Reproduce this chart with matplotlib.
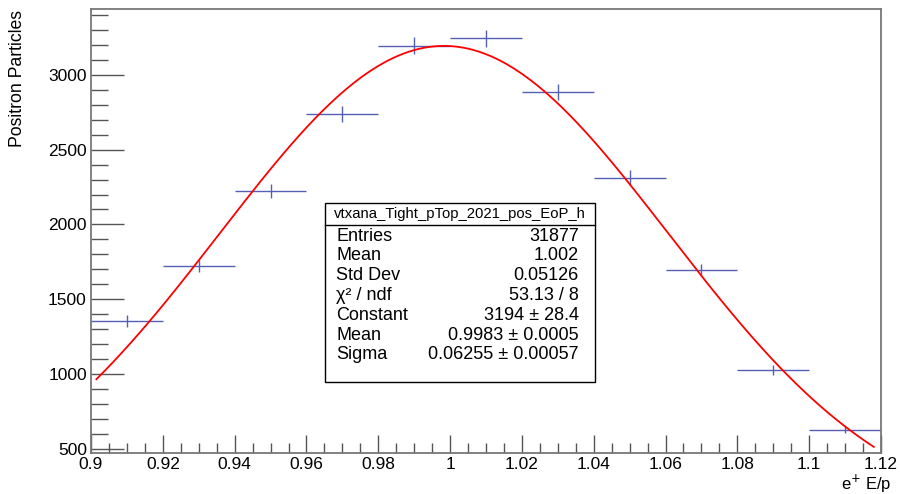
import numpy as np
import matplotlib
matplotlib.use("Agg")
import matplotlib.pyplot as plt
from matplotlib.ticker import MultipleLocator, FormatStrFormatter

plt.rcParams['font.family'] = ['Liberation Sans', 'DejaVu Sans']

# --- histogram data (bin centres / counts / errors) ---
bin_centers = [0.91, 0.93, 0.95, 0.97, 0.99, 1.01, 1.03, 1.05, 1.07, 1.09, 1.11]
counts = [1354, 1723, 2222, 2739, 3194, 3245, 2884, 2313, 1697, 1028, 627]
errors = [37, 42, 47, 52, 57, 57, 54, 48, 41, 32, 25]
bin_width = 0.02

# --- gaussian fit parameters ---
fit_const = 3194
fit_mean = 0.9983
fit_sigma = 0.06255

stats_title = "vtxana_Tight_pTop_2021_pos_EoP_h"
stats_labels = ["Entries", "Mean", "Std Dev", "χ² / ndf", "Constant", "Mean", "Sigma"]
stats_values = ["31877", "1.002", "0.05126", "53.13 / 8", "3194 ± 28.4",
                "0.9983 ± 0.0005", "0.06255 ± 0.00057"]

W, H = 900, 494
fig = plt.figure(figsize=(W / 100, H / 100), dpi=100)
ax = fig.add_axes([91 / W, 1 - 453 / H, (881 - 91) / W, (453 - 9) / H])

ax.errorbar(bin_centers, counts, xerr=bin_width / 2, yerr=errors, fmt='none',
            ecolor='#5560b4', elinewidth=1.0, capsize=0)

xf = np.linspace(0.9015, 1.118, 200)
ax.plot(xf, fit_const * np.exp(-0.5 * ((xf - fit_mean) / fit_sigma) ** 2),
        color='#ff0000', lw=1.3)

ax.set_xlim(0.9, 1.12)
ax.set_ylim(471, 3441)

ax.xaxis.set_major_locator(MultipleLocator(0.02))
ax.xaxis.set_minor_locator(MultipleLocator(0.005))
ax.yaxis.set_major_locator(MultipleLocator(500))
ax.yaxis.set_minor_locator(MultipleLocator(100))
ax.xaxis.set_major_formatter(FormatStrFormatter('%g'))
ax.yaxis.set_major_formatter(FormatStrFormatter('%g'))

ax.tick_params(axis='x', which='major', direction='in', length=13, width=1,
               color='#555555', labelsize=12.5, pad=3)
ax.tick_params(axis='x', which='minor', direction='in', length=7, width=1, color='#555555')
ax.tick_params(axis='y', which='major', direction='in', length=24, width=1,
               color='#555555', labelsize=12.5, pad=3)
ax.tick_params(axis='y', which='minor', direction='in', length=12, width=1, color='#555555')

for s in ax.spines.values():
    s.set_color('#777777')
    s.set_linewidth(1.3)

fig.text(892 / W, 1 - 484 / H, "e$^{+}$ E/p", ha='right', va='center', fontsize=12)
fig.text(18 / W, 1 - 10 / H, "Positron Particles", ha='center', va='top',
         rotation=90, fontsize=12.7)

# --- stats box ---
bx0, bx1, by0, by1, byt = 325, 595, 203, 382, 225
box = plt.Rectangle((bx0 / W, 1 - by1 / H), (bx1 - bx0) / W, (by1 - by0) / H,
                    transform=fig.transFigure, facecolor='white', edgecolor='black',
                    lw=1.0, zorder=5)
fig.add_artist(box)
fig.add_artist(plt.Line2D([bx0 / W, bx1 / W], [1 - byt / H, 1 - byt / H],
                          transform=fig.transFigure, color='black', lw=1.0, zorder=6))
fig.text((bx0 + bx1) / 2 / W, 1 - 214 / H, stats_title, ha='center', va='center',
         fontsize=10.7, zorder=7)
for i, (lab, val) in enumerate(zip(stats_labels, stats_values)):
    yy = 1 - (236 + i * 19.8) / H
    fig.text(336 / W, yy, lab, ha='left', va='center', fontsize=13, zorder=7)
    fig.text(579 / W, yy, val, ha='right', va='center', fontsize=13, zorder=7)

fig.savefig("out.png", dpi=100)
